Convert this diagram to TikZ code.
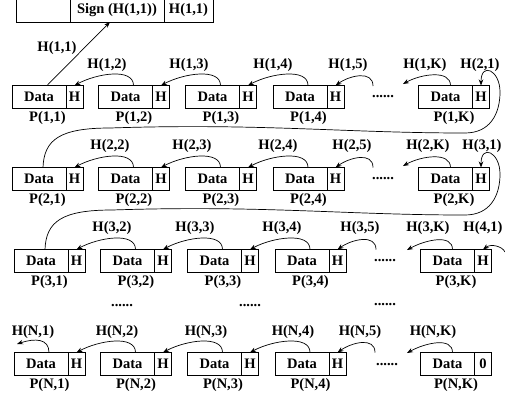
\documentclass[tikz,border=0pt]{standalone}
\usepackage{fontspec}
\setmainfont{Liberation Serif}
\usetikzlibrary{arrows.meta}
\begin{document}
\begin{tikzpicture}[x=1pt,y=-1pt,
  font=\fontsize{14.5}{16}\selectfont\bfseries,
  every node/.style={inner sep=0pt,outer sep=0pt},
  cell/.style={draw,line width=0.8pt,minimum height=23pt,anchor=west},
  datacell/.style={cell,minimum width=54pt},
  hcell/.style={cell,minimum width=17pt},
  link/.style={line width=0.7pt,-{Stealth[length=6pt,width=4.5pt]}},
  dots/.style={}
]
\useasboundingbox (0,0) rectangle (505,400);

% signature record at the top
\node[cell,minimum width=54pt,minimum height=24pt] (t-blank) at (16,10) {};
\node[cell,minimum width=94pt,minimum height=24pt] (t-sign) at (t-blank.east) {Sign (H(1,1))};
\node[cell,minimum width=49pt,minimum height=24pt] (t-hash) at (t-sign.east) {H(1,1)};

% packet boxes P(r,c): data part, hash part and caption
\foreach \r/\y/\dx in {1/97/0,2/179/0,3/261/2,N/364/2}{
  \foreach \c/\x in {1/12,2/98.5,3/185.5,4/273,K/418.5}{
    \node[datacell] (d-\r-\c) at (\x+\dx,\y) {Data};
    \node (p-\r-\c) at ([xshift=8.5pt,yshift=-21pt]d-\r-\c.center) {P(\r,\c)};
  }
}
\foreach \r in {1,2,3}{
  \foreach \c in {1,2,3,4,K}{
    \node[hcell] (h-\r-\c) at (d-\r-\c.east) {H};
  }
}
\foreach \c in {1,2,3,4}{
  \node[hcell] (h-N-\c) at (d-N-\c.east) {H};
}
\node[hcell] (h-N-K) at (d-N-K.east) {0};

% hash chain inside each row
\foreach \r in {1,2,3,N}{
  \foreach \c/\p in {2/1,3/2,4/3}{
    \draw[link] ([xshift=8pt]d-\r-\c.north) .. controls +(0,-18) and +(22,-12) .. (h-\r-\p.north);
  }
}

% omitted fifth packet of each row
\coordinate (s-1-5) at (373,86);
\coordinate (s-2-5) at (373,167.5);
\coordinate (s-3-5) at (376,249.5);
\coordinate (s-N-5) at (375,352.5);
\foreach \r in {1,2,3,N}{
  \draw[link] (s-\r-5) .. controls +(0,-16) and +(14,-10) .. (h-\r-4.north);
}

% last packet of each row points back into the gap
\coordinate (e-1-K) at (403,84);
\coordinate (e-2-K) at (403,166);
\coordinate (e-3-K) at (407,250);
\coordinate (e-N-K) at (407,353);
\foreach \r in {1,2,3,N}{
  \draw[link] ([xshift=5pt]d-\r-K.north) .. controls +(0,-16) and +(18,-10) .. (e-\r-K);
}

% first packet of the first row signs into the record
\draw[link] ([xshift=8pt]d-1-1.north) -- ([xshift=-7pt]t-sign.south);

% row-to-row links
\coordinate (a-2) at (110,128);
\coordinate (b-2) at (465,133);
\coordinate (c-2) at (500,92);
\draw[link] ([xshift=4pt]d-2-1.north) .. controls +(1,-28) and +(-50,0) .. (a-2)
  .. controls +(150,-5) and +(-120,0) .. (b-2)
  .. controls +(25,0) and +(0,22) .. (c-2)
  .. controls +(0,-22) and +(0,-24) .. (h-1-K.north);

\coordinate (a-3) at (112,210);
\coordinate (b-3) at (465,215);
\coordinate (c-3) at (500,174);
\draw[link] ([xshift=4pt]d-3-1.north) .. controls +(1,-28) and +(-50,0) .. (a-3)
  .. controls +(150,-5) and +(-120,0) .. (b-3)
  .. controls +(25,0) and +(0,22) .. (c-3)
  .. controls +(0,-22) and +(0,-24) .. (h-2-K.north);

\coordinate (e-4-1) at (505,252);
\draw[link] (e-4-1) .. controls +(-3,-6) and +(8,-6) .. (h-3-K.north);

\coordinate (e-N-1) at (17,344);
\draw[link] ([xshift=8pt]d-N-1.north) .. controls +(0,-14) and +(18,-6) .. (e-N-1);

% hash labels
\node (l-1-1) at (57,48) {H(1,1)};
\foreach \r/\y/\xa/\xb/\xc/\xd/\xk/\xn/\nx in
  {1/65/107/189/273/348/425/480/2, 2/146/110/192/278/352/428/482/3, 3/228/112/195/282/360/428/483/4}{
  \node (l-\r-2) at (\xa,\y) {H(\r,2)};
  \node (l-\r-3) at (\xb,\y) {H(\r,3)};
  \node (l-\r-4) at (\xc,\y) {H(\r,4)};
  \node (l-\r-5) at (\xd,\y) {H(\r,5)};
  \node (l-\r-K) at (\xk,\y) {H(\r,K)};
  \node (l-\nx-1) at (\xn,\y) {H(\nx,1)};
}
\node (l-N-1) at (33,332) {H(N,1)};
\node (l-N-2) at (117,332) {H(N,2)};
\node (l-N-3) at (206,332) {H(N,3)};
\node (l-N-4) at (293,332) {H(N,4)};
\node (l-N-5) at (360,332) {H(N,5)};
\node (l-N-K) at (433,332) {H(N,K)};

% ellipses
\node[dots] (g-1) at (383,97) {......};
\node[dots] (g-2) at (383,179) {......};
\node[dots] (g-3) at (385,261) {......};
\node[dots] (g-N) at (387,365) {......};
\node[dots] (v-1) at (122,306) {......};
\node[dots] (v-2) at (250,306) {......};
\node[dots] (v-3) at (385,305) {......};
\end{tikzpicture}
\end{document}
